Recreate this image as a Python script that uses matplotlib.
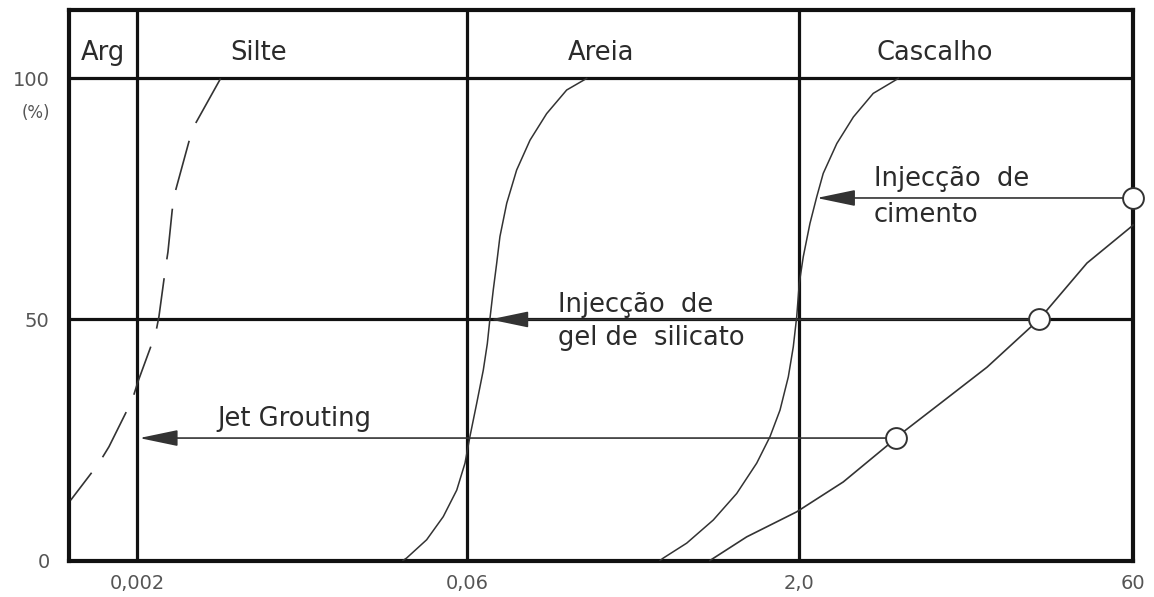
import numpy as np
import matplotlib
matplotlib.use("Agg")
import matplotlib.pyplot as plt

# ---- data ----
tick_values = [0.002, 0.06, 2.0, 60]
tick_labels = ["0,002", "0,06", "2,0", "60"]
y_ticks = [0, 50, 100]
y_tick_labels = ["0", "50", "100"]

# dashed curve (argila / silte), ordered from the top down
dash_x = [0.004738, 0.003662, 0.003418, 0.002980, 0.002877, 0.002753, 0.002689,
          0.002509, 0.002425, 0.002021, 0.001905, 0.001499, 0.001352, 0.001010]
dash_y = [100, 90.7, 86.9, 76.8, 72.7, 64.0, 60.9, 50.6, 47.1, 37.1, 33.3, 23.6, 20.2, 12.5]

# curve limiting silicate gel injection
sil_x = [0.0310, 0.0322, 0.0396, 0.0470, 0.0540, 0.0588, 0.0619, 0.0665, 0.0713,
         0.0744, 0.0765, 0.0792, 0.0821, 0.0850, 0.0913, 0.1014, 0.1168, 0.1392,
         0.1720, 0.2124]
sil_y = [0, 0.5, 4.3, 9.1, 14.6, 20.2, 25.7, 32.6, 39.5, 45.0, 50.2, 56.1, 61.6,
         67.2, 74.1, 81.0, 87.2, 92.7, 97.6, 100]

# curve limiting cement injection
cem_x = [0.461, 0.477, 0.611, 0.809, 1.036, 1.280, 1.473, 1.637, 1.787, 1.883,
         1.953, 2.006, 2.089, 2.236, 2.395, 2.56, 2.94, 3.48, 4.26, 5.50]
cem_y = [0, 0.5, 3.6, 8.4, 13.9, 20.2, 25.7, 31.2, 38.1, 44.3, 50.6, 57.5, 63.0,
         69.9, 75.4, 80.3, 86.5, 92.0, 96.9, 100]

# coarse soil curve
grav_x = [0.781, 1.151, 1.953, 3.14, 5.05, 5.37, 8.49, 13.57, 23.04, 37.55, 58.8, 60]
grav_y = [0, 4.9, 10.1, 16.3, 24.3, 25.5, 32.7, 40.1, 50.0, 61.7, 69.2, 69.6]

# circles and arrows
circ_x = [5.37, 23.04, 60]
circ_y = [25.4, 50, 75.2]
arrow_tip_x = [0.00205, 0.0765, 2.395]

header_labels = ["Arg", "Silte", "Areia", "Cascalho"]
header_x = [0.00141, 0.00703, 0.247, 7.99]

# ---- custom piecewise-log scale (class limits nearly equally spaced) ----
LK = np.log10(np.array(tick_values))
IDX = np.array([0.0, 330.0, 662.0, 996.0])


def fwd(x):
    x = np.asarray(x, dtype=float)
    l = np.log10(np.maximum(x, 1e-12))
    out = np.interp(l, LK, IDX)
    s0 = (IDX[1] - IDX[0]) / (LK[1] - LK[0])
    s1 = (IDX[-1] - IDX[-2]) / (LK[-1] - LK[-2])
    out = np.where(l < LK[0], IDX[0] + (l - LK[0]) * s0, out)
    out = np.where(l > LK[-1], IDX[-1] + (l - LK[-1]) * s1, out)
    return out


def inv(u):
    u = np.asarray(u, dtype=float)
    l = np.interp(u, IDX, LK)
    s0 = (IDX[1] - IDX[0]) / (LK[1] - LK[0])
    s1 = (IDX[-1] - IDX[-2]) / (LK[-1] - LK[-2])
    l = np.where(u < IDX[0], LK[0] + (u - IDX[0]) / s0, l)
    l = np.where(u > IDX[-1], LK[-1] + (u - IDX[-1]) / s1, l)
    return 10 ** l


fig = plt.figure(figsize=(11.54, 5.97), dpi=100)
ax = fig.add_axes([69 / 1154, 36.5 / 597, 1064 / 1154, 551 / 597])
ax.set_xscale("function", functions=(fwd, inv))
ax.set_xlim(0.000993, 60)
ax.set_ylim(0, 114.3)

line_col = "#111111"
curve_col = "#333333"
text_col = "#2b2b2b"

# grid / frame
for v in tick_values[:3]:
    ax.axvline(v, color=line_col, lw=2.3, zorder=2)
for h in [50, 100]:
    ax.axhline(h, color=line_col, lw=2.3, zorder=2)
for s in ax.spines.values():
    s.set_linewidth(3.0)
    s.set_color(line_col)

# curves
ax.plot(dash_x, dash_y, color=curve_col, lw=1.2, linestyle=(0, (30.6, 11.4)), zorder=3)
ax.plot(sil_x, sil_y, color=curve_col, lw=1.1, zorder=3)
ax.plot(cem_x, cem_y, color=curve_col, lw=1.1, zorder=3)
ax.plot(grav_x, grav_y, color=curve_col, lw=1.2, zorder=3, clip_on=False)

# arrows
for sx, sy, tx in zip(circ_x, circ_y, arrow_tip_x):
    ax.annotate("", xy=(tx, sy), xytext=(sx, sy),
                arrowprops=dict(arrowstyle="-|>,head_length=2.4,head_width=0.5",
                                mutation_scale=10, color=curve_col, lw=1.2,
                                shrinkA=7, shrinkB=0),
                zorder=4, annotation_clip=False)

ax.plot(circ_x, circ_y, "o", ms=15, mfc="white", mec=curve_col, mew=1.4,
        clip_on=False, zorder=6)

# header labels
for lab, x in zip(header_labels, header_x):
    ax.text(x, 103.8, lab, ha="center", va="baseline", fontsize=18.5, color=text_col)

# annotation texts
ax.text(4.29, 77.7, "Injecção  de", ha="left", va="baseline", fontsize=18.5, color=text_col)
ax.text(4.29, 70.2, "cimento", ha="left", va="baseline", fontsize=18.5, color=text_col)
ax.text(0.1568, 51.5, "Injecção  de", ha="left", va="baseline", fontsize=18.5, color=text_col)
ax.text(0.1568, 44.7, "gel de  silicato", ha="left", va="baseline", fontsize=18.5, color=text_col)
ax.text(0.00456, 27.9, "Jet Grouting", ha="left", va="baseline", fontsize=18.5, color=text_col)

# ticks
ax.set_xticks(tick_values)
ax.set_xticklabels(tick_labels)
ax.set_yticks(y_ticks)
ax.set_yticklabels(y_tick_labels)
ax.minorticks_off()
ax.tick_params(axis="both", length=0, labelsize=14, labelcolor="#555555")
ax.tick_params(axis="x", pad=10)
ax.tick_params(axis="y", pad=14)
ax.text(-0.0179, 92.8, "(%)", transform=ax.get_yaxis_transform(), ha="right",
        va="center", fontsize=12, color="#555555")

fig.savefig("out.png", dpi=100)
